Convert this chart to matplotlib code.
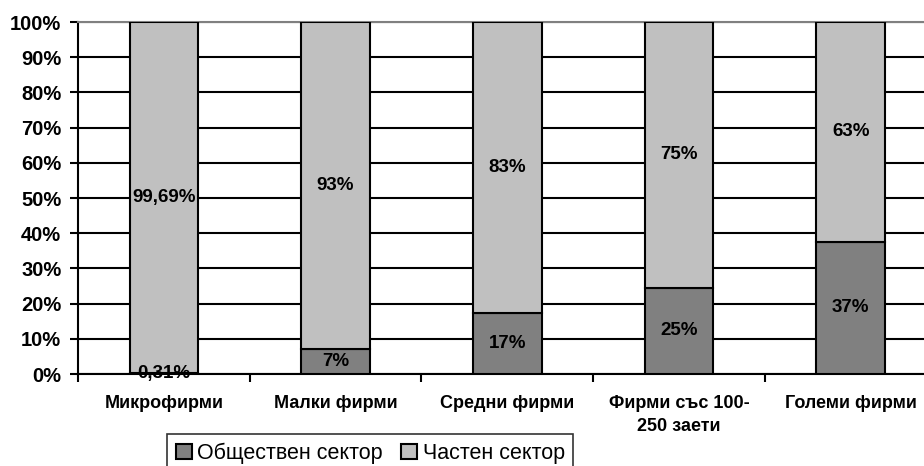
import matplotlib
matplotlib.use("Agg")
import matplotlib.pyplot as plt
import numpy as np

categories = ["Микрофирми", "Малки фирми", "Средни фирми", "Фирми със 100-\n250 заети", "Големи фирми"]
public = [0.31, 7.0, 17.2, 24.5, 37.5]
private = [99.69, 93.0, 82.8, 75.5, 62.5]
public_labels = ["0,31%", "7%", "17%", "25%", "37%"]
private_labels = ["99,69%", "93%", "83%", "75%", "63%"]
series_names = ["Обществен сектор", "Частен сектор"]
yticks = [0, 10, 20, 30, 40, 50, 60, 70, 80, 90, 100]

plt.rcParams['font.family'] = ['Liberation Sans', 'DejaVu Sans']

W, H = 924, 466
fig = plt.figure(figsize=(W / 100, H / 100), dpi=100)
left_px, right_px, top_px, bot_px = 78, 78 + 5 * 171.7, 22, 374
ax = fig.add_axes([left_px / W, 1 - bot_px / H, (right_px - left_px) / W, (bot_px - top_px) / H])

x = np.arange(len(categories))
bw = 0.4
dark, light = "#808080", "#C0C0C0"
ax.set_axisbelow(True)
ax.yaxis.grid(True, color="black", linewidth=1.5)
b1 = ax.bar(x, public, width=bw, color=dark, edgecolor="black", linewidth=1.5, label=series_names[0], zorder=3)
b2 = ax.bar(x, private, width=bw, bottom=public, color=light, edgecolor="black", linewidth=1.5, label=series_names[1], zorder=3)

for i in range(len(x)):
    ax.text(x[i], public[i] / 2, public_labels[i], ha="center", va="center", fontsize=13.5, fontweight="bold", zorder=5)
    ax.text(x[i], public[i] + private[i] / 2, private_labels[i], ha="center", va="center", fontsize=13.5, fontweight="bold", zorder=5)

ax.set_xlim(-0.5, len(x) - 0.5)
ax.set_ylim(0, 100)
ax.set_yticks(yticks)
ax.set_yticklabels([f"{v}%" for v in yticks], fontsize=14.5, fontweight="bold")
ax.tick_params(axis="y", length=6, width=1.5, direction="out", pad=6)

ax.set_xticks(x)
ax.set_xticklabels(categories, fontsize=13, fontweight="bold", linespacing=1.5)
ax.tick_params(axis="x", which="major", length=0, pad=15)
ax.set_xticks(np.arange(len(x) + 1) - 0.5, minor=True)
ax.tick_params(axis="x", which="minor", length=6, width=1.5, direction="out")

ax.spines["right"].set_visible(False)
ax.spines["top"].set_color("#808080")
ax.spines["top"].set_linewidth(1.5)
ax.spines["left"].set_linewidth(1.5)
ax.spines["bottom"].set_linewidth(1.5)

leg = fig.legend(handles=[b1, b2], labels=series_names, loc="upper left",
                 bbox_to_anchor=(167 / W, 1 - 434 / H), ncol=2, frameon=True,
                 fancybox=False, edgecolor="black", fontsize=15.5,
                 handlelength=0.75, handleheight=0.75, handletextpad=0.25,
                 columnspacing=0.85, borderpad=0.4, borderaxespad=0)
leg.get_frame().set_linewidth(1.2)

fig.savefig("out.png", dpi=100)
